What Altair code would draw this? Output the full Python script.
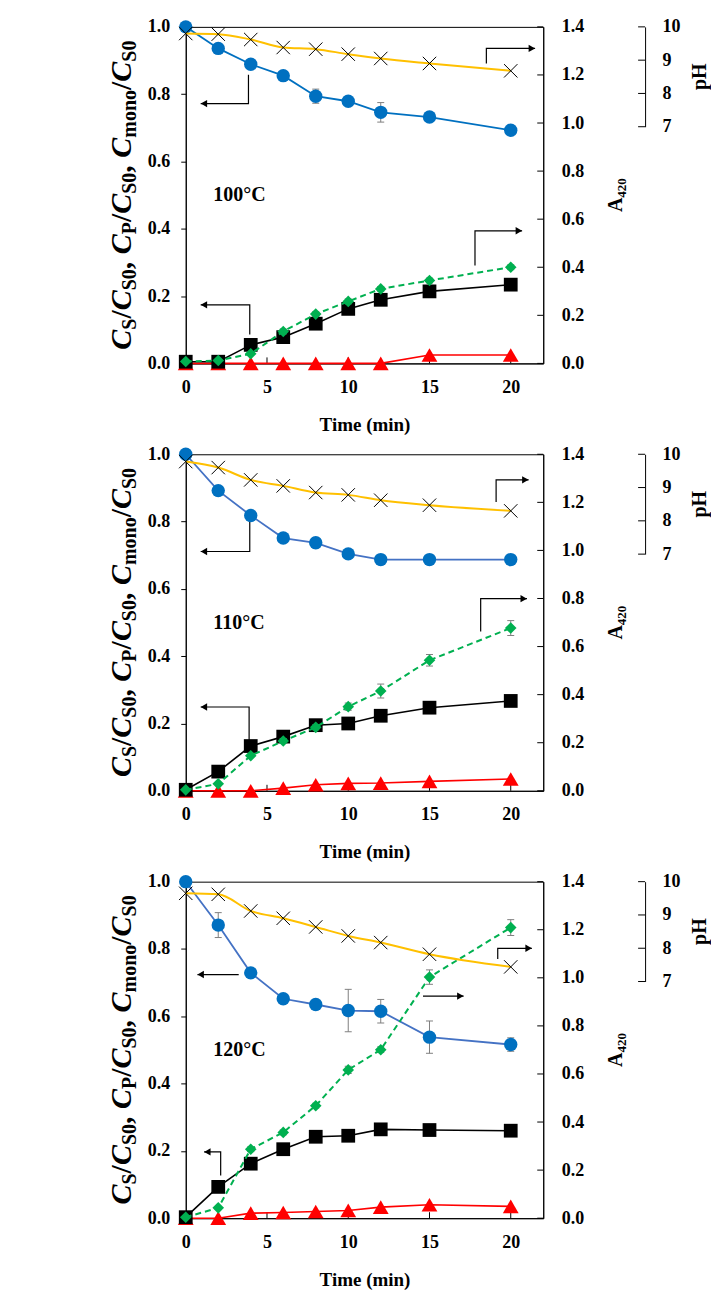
import altair as alt
import pandas as pd

# ---------------- data ----------------
TIME = [0, 2, 4, 6, 8, 10, 12, 15, 20]
PANELS = ["100°C", "110°C", "120°C"]

CS_100 = [1.0, 0.936, 0.889, 0.855, 0.794, 0.779, 0.746, 0.732, 0.693]
CS_110 = [1.0, 0.892, 0.818, 0.751, 0.737, 0.704, 0.687, 0.687, 0.687]
CS_120 = [1.0, 0.871, 0.729, 0.652, 0.635, 0.617, 0.615, 0.538, 0.516]
CS_ERR_100 = [0, 0, 0, 0.005, 0.021, 0.01, 0.029, 0.005, 0.008]
CS_ERR_110 = [0, 0.005, 0.008, 0.005, 0.015, 0.01, 0.005, 0.005, 0.005]
CS_ERR_120 = [0, 0.037, 0.01, 0.01, 0.01, 0.063, 0.035, 0.048, 0.02]

CP_100 = [0.005, 0.005, 0.055, 0.078, 0.118, 0.162, 0.189, 0.214, 0.234]
CP_110 = [0.003, 0.057, 0.133, 0.161, 0.195, 0.200, 0.223, 0.247, 0.267]
CP_120 = [0.003, 0.093, 0.162, 0.205, 0.242, 0.245, 0.264, 0.262, 0.260]

CM_100 = [0, 0, 0, 0, 0, 0, 0, 0.025, 0.025]
CM_110 = [0, 0, 0, 0.008, 0.018, 0.022, 0.023, 0.028, 0.035]
CM_120 = [0, 0, 0.015, 0.017, 0.020, 0.023, 0.033, 0.040, 0.035]

A420_100 = [0.008, 0.012, 0.040, 0.133, 0.205, 0.258, 0.310, 0.345, 0.400]
A420_110 = [0.004, 0.029, 0.146, 0.207, 0.264, 0.350, 0.415, 0.543, 0.677]
A420_120 = [0.004, 0.043, 0.287, 0.357, 0.468, 0.617, 0.701, 1.003, 1.209]
A420_ERR_100 = [0, 0, 0, 0.01, 0.01, 0.01, 0.01, 0.01, 0.01]
A420_ERR_110 = [0, 0, 0, 0.01, 0.01, 0.015, 0.029, 0.024, 0.031]
A420_ERR_120 = [0, 0, 0.01, 0.01, 0.01, 0.015, 0.012, 0.03, 0.033]

PH_100 = [9.80, 9.78, 9.62, 9.38, 9.33, 9.18, 9.05, 8.90, 8.68]
PH_110 = [9.78, 9.60, 9.23, 9.05, 8.85, 8.78, 8.62, 8.47, 8.30]
PH_120 = [9.65, 9.62, 9.12, 8.90, 8.64, 8.37, 8.17, 7.82, 7.44]

# annotation arrows (time, left-axis value), last point is the tip
ARROWS_100 = [
    ([(3.86, 0.858), (3.86, 0.772), (0.92, 0.772)], -1),
    ([(18.5, 0.891), (18.5, 0.936), (21.5, 0.936)], 1),
    ([(3.94, 0.086), (3.94, 0.174), (0.92, 0.174)], -1),
    ([(17.8, 0.291), (17.8, 0.394), (20.7, 0.394)], 1),
]
ARROWS_110 = [
    ([(3.94, 0.80), (3.94, 0.711), (0.92, 0.711)], -1),
    ([(19.1, 0.858), (19.1, 0.924), (21.1, 0.924)], 1),
    ([(18.15, 0.473), (18.15, 0.571), (21.0, 0.571)], 1),
    ([(3.9, 0.148), (3.9, 0.249), (0.92, 0.249)], -1),
]
ARROWS_120 = [
    ([(3.26, 0.724), (0.72, 0.724)], -1),
    ([(19.2, 0.770), (19.2, 0.802), (21.3, 0.802)], 1),
    ([(14.6, 0.660), (17.1, 0.660)], 1),
    ([(2.15, 0.127), (2.15, 0.197), (1.13, 0.197)], -1),
]

X_TICKS = [0, 5, 10, 15, 20]
L_TICKS = [0, 0.2, 0.4, 0.6, 0.8, 1.0]
R_TICKS = [0, 0.2, 0.4, 0.6, 0.8, 1.0, 1.2, 1.4]
PH_TICKS = [7, 8, 9, 10]

# left title pieces: (text, kind)
TITLE_SEGS = [("C", "it"), ("S", "sub"), ("/", "big"), ("C", "it"), ("S0", "sub"),
              (", ", "big"), ("C", "it"), ("P", "sub"), ("/", "big"), ("C", "it"),
              ("S0", "sub"), (", ", "big"), ("C", "it"), ("mono", "sub"), ("/", "big"),
              ("C", "it"), ("S0", "sub")]

# ---------------- layout / style ----------------
W, H = 358, 337
PH_PX = 100
PH_OFF = 102
FONT = "Liberation Serif"
F_BIG, F_SUB = 30, 20
BLUE, BLUE_L = "#0070C0", "#4472C4"
GREEN, YELLOW, RED = "#00B050", "#FFC000", "#FF0000"

CHARW = {"C": 0.667, "S": 0.556, "P": 0.611, "/": 0.278, ",": 0.25, " ": 0.25,
         "0": 0.5, "m": 0.833, "o": 0.5, "n": 0.556}

def seg_width(txt, kind):
    fs = F_SUB if kind == "sub" else F_BIG
    return sum(CHARW.get(c, 0.5) for c in txt) * fs

total = sum(seg_width(t, k) for t, k in TITLE_SEGS)
start = H / 2 + total / 2
cum = 0
title_rows = []
for t, k in TITLE_SEGS:
    title_rows.append({"s": t.strip() if k != "big" else t, "pos": start - cum, "kind": k})
    cum += seg_width(t, k)
title_df = pd.DataFrame(title_rows)

xscale = alt.Scale(domain=[0, 22], nice=False, zero=False)
xaxis = alt.Axis(values=X_TICKS, title="Time (min)", ticks=False, tickSize=0, labelPadding=15,
                 titlePadding=19, format="d", labelFlush=False)
yscaleL = alt.Scale(domain=[0, 1], nice=False, zero=False)
yaxisL = alt.Axis(values=L_TICKS, format=".1f", tickSize=5, labelPadding=11, title=None,
                  orient="left", labelFlush=False)
yscaleR = alt.Scale(domain=[0, 1.4], nice=False, zero=False)
yaxisR = alt.Axis(values=R_TICKS, format=".1f", ticks=False, tickSize=0, labelPadding=18,
                  title=None, orient="right", labelFlush=False)
yscaleP = alt.Scale(domain=[7, 10], range=[PH_PX, 0], nice=False, zero=False)
yaxisP = alt.Axis(values=PH_TICKS, format="d", ticks=False, tickSize=0, labelPadding=17,
                  title=None, orient="right", offset=PH_OFF, labelFlush=False)


def X(f="t"):
    return alt.X(f"{f}:Q", scale=xscale, axis=xaxis)


def YL(f):
    return alt.Y(f"{f}:Q", scale=yscaleL, axis=yaxisL)


def YR(f):
    return alt.Y(f"{f}:Q", scale=yscaleR, axis=yaxisR)


def YP(f):
    return alt.Y(f"{f}:Q", scale=yscaleP, axis=yaxisP)


def errbars(vals, errs, Yf, color="#7F7F7F"):
    rows = [(t, v - e, v + e) for t, v, e in zip(TIME, vals, errs) if e > 0]
    d = pd.DataFrame(rows, columns=["t", "lo", "hi"])
    caps = pd.DataFrame([(t, y) for t, lo, hi in rows for y in (lo, hi)], columns=["t", "y"])
    r = alt.Chart(d).mark_rule(color=color, strokeWidth=1).encode(x=X(), y=Yf("lo"), y2="hi:Q")
    c = alt.Chart(caps).mark_point(shape="M-1,0L1,0", size=49, color=color, strokeWidth=1,
                                   filled=False, opacity=1).encode(x=X(), y=Yf("y"))
    return [r, c]


def panel(label, cs, cs_err, cp, cm, a4, a4_err, ph, arrows, blue_line):
    d = pd.DataFrame({"t": TIME, "cs": cs, "cp": cp, "cm": cm, "a": a4, "p": ph})

    # ---- left-axis group ----
    xt = alt.Chart(pd.DataFrame({"t": X_TICKS})).mark_rule(color="black", strokeWidth=1).encode(
        x=X(), y=alt.value(H), y2=alt.value(H - 6))
    arow, heads = [], []
    for i, (pts, direc) in enumerate(arrows):
        for k, (t, v) in enumerate(pts):
            arow.append({"id": i, "k": k, "t": t, "v": v})
        tt, vv = pts[-1]
        heads.append({"t": tt - 0.2 * direc, "v": vv,
                      "shape": "triangle-right" if direc > 0 else "triangle-left"})
    arr_line = alt.Chart(pd.DataFrame(arow)).mark_line(color="black", strokeWidth=1.2).encode(
        x=X(), y=YL("v"), detail="id:N", order="k:Q")
    arr_head = alt.Chart(pd.DataFrame(heads)).mark_point(filled=True, color="black", size=55,
                                                         opacity=1).encode(
        x=X(), y=YL("v"), shape=alt.Shape("shape:N", scale=None))
    eb = errbars(cs, cs_err, YL)
    base = alt.Chart(d)
    l_cm = base.mark_line(color=RED, strokeWidth=1.6).encode(x=X(), y=YL("cm"))
    l_cp = base.mark_line(color="black", strokeWidth=1.6).encode(x=X(), y=YL("cp"))
    l_cs = base.mark_line(color=blue_line, strokeWidth=1.8).encode(x=X(), y=YL("cs"))
    m_cm = base.mark_point(shape="triangle-up", filled=True, color=RED, size=250, opacity=1).encode(
        x=X(), y=YL("cm"))
    m_cp = base.mark_point(shape="square", filled=True, color="black", size=190, opacity=1).encode(
        x=X(), y=YL("cp"))
    m_cs = base.mark_point(shape="circle", filled=True, color=BLUE, size=180, opacity=1).encode(
        x=X(), y=YL("cs"))
    lab = alt.Chart(pd.DataFrame({"t": [1.7], "v": [0.5], "s": [label]})).mark_text(
        font=FONT, fontWeight="bold", fontSize=20, align="left", baseline="middle",
        color="black").encode(x=X(), y=YL("v"), text="s:N")
    tlayers = []
    for kind, style, fs, xo in [("it", "italic", F_BIG, -55), ("big", "normal", F_BIG, -55),
                                ("sub", "normal", F_SUB, -50)]:
        sub = title_df[title_df.kind == kind]
        tlayers.append(alt.Chart(sub).mark_text(
            font=FONT, fontWeight="bold", fontStyle=style, fontSize=fs, angle=270,
            align="left", baseline="alphabetic", color="black").encode(
            x=alt.value(xo), y=alt.Y("pos:Q", scale=None), text="s:N"))
    left = alt.layer(xt, arr_line, arr_head, *eb, l_cm, l_cp, l_cs, m_cm, m_cp, m_cs, lab, *tlayers)

    # ---- A420 group ----
    rt = alt.Chart(pd.DataFrame({"a": R_TICKS})).mark_rule(color="black", strokeWidth=1).encode(
        x=alt.value(W - 6), x2=alt.value(W), y=YR("a"))
    eb2 = errbars(a4, a4_err, YR)
    l_a = base.mark_line(color=GREEN, strokeWidth=2, strokeDash=[6, 4]).encode(x=X(), y=YR("a"))
    m_a = base.mark_point(shape="diamond", filled=True, color=GREEN, size=135, opacity=1).encode(
        x=X(), y=YR("a"))
    tA = alt.Chart(pd.DataFrame({"s": ["A"]})).mark_text(
        font=FONT, fontWeight="bold", fontSize=20, angle=270, align="left",
        baseline="alphabetic", color="black").encode(
        x=alt.value(W + 79), y=alt.value(H / 2 + 17), text="s:N")
    tA2 = alt.Chart(pd.DataFrame({"s": ["420"]})).mark_text(
        font=FONT, fontWeight="bold", fontSize=13, angle=270, align="left",
        baseline="alphabetic", color="black").encode(
        x=alt.value(W + 83), y=alt.value(H / 2 + 17 - 14.4), text="s:N")
    green = alt.layer(rt, *eb2, l_a, m_a, tA, tA2)

    # ---- pH group ----
    pt = alt.Chart(pd.DataFrame({"p": PH_TICKS})).mark_rule(color="black", strokeWidth=1).encode(
        x=alt.value(W + PH_OFF - 7), x2=alt.value(W + PH_OFF), y=YP("p"))
    l_p = base.mark_line(color=YELLOW, strokeWidth=2, interpolate="monotone").encode(
        x=X(), y=YP("p"))
    m_p = base.mark_point(shape="M-1,-1L1,1M-1,1L1,-1", size=180, color="black", strokeWidth=1,
                          filled=False, opacity=1).encode(x=X(), y=YP("p"))
    tph = alt.Chart(pd.DataFrame({"s": ["pH"]})).mark_text(
        font=FONT, fontWeight="bold", fontSize=20, angle=270, align="center",
        baseline="middle", color="black").encode(
        x=alt.value(W + 157), y=alt.value(PH_PX / 2), text="s:N")
    phg = alt.layer(pt, l_p, m_p, tph)

    return alt.layer(left, green, phg).resolve_scale(y="independent").properties(width=W, height=H)


p1 = panel(PANELS[0], CS_100, CS_ERR_100, CP_100, CM_100, A420_100, A420_ERR_100, PH_100, ARROWS_100, BLUE)
p2 = panel(PANELS[1], CS_110, CS_ERR_110, CP_110, CM_110, A420_110, A420_ERR_110, PH_110, ARROWS_110, BLUE_L)
p3 = panel(PANELS[2], CS_120, CS_ERR_120, CP_120, CM_120, A420_120, A420_ERR_120, PH_120, ARROWS_120, BLUE_L)

chart = alt.vconcat(p1, p2, p3, spacing=9).properties(
    padding={"left": 106, "top": 16, "right": 0, "bottom": 0},
    background="white",
).configure_view(stroke="black", strokeWidth=1).configure_axis(
    labelFont=FONT, labelFontWeight="bold", labelFontSize=18, labelColor="black",
    titleFont=FONT, titleFontWeight="bold", titleFontSize=19, titleColor="black",
    domainColor="black", tickColor="black", domainWidth=1, tickWidth=1, grid=False,
)

chart.save("out.html", embed_options={"renderer": "svg", "actions": False})
